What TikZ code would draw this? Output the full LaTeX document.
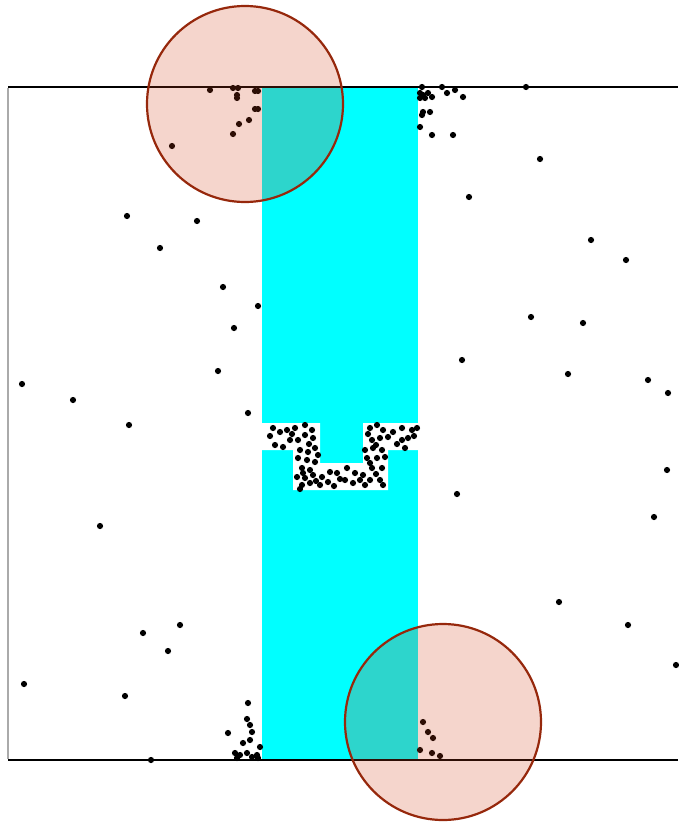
\documentclass[tikz,border=0pt]{standalone}
\usepackage{tikz}
\usetikzlibrary{positioning}
\definecolor{BandColor}{HTML}{00FFFF}
\definecolor{ZoneFill}{RGB}{208,65,23}
\definecolor{ZoneDraw}{RGB}{150,40,12}
\definecolor{FrameGray}{RGB}{170,170,170}

\begin{document}
\begin{tikzpicture}[
        x=1pt, y=-1pt,
        band/.style={fill=BandColor},
        hole/.style={fill=white},
        pt/.style={fill=black},
        frame/.style={line width=1.5pt, black},
        zone/.style={circle, draw=ZoneDraw, line width=2.2pt, fill=ZoneFill, fill opacity=0.22, minimum size=196pt, inner sep=0pt}
      ]
        \useasboundingbox (0,0) rectangle (678,822);

        % channel and its notch
        \fill[band] (262,87) rectangle (418,760);
        \fill[hole] (262,423) -- (320,423) -- (320,463) -- (363,463) -- (363,423) -- (418,423)
          -- (418,450) -- (388,450) -- (388,490) -- (293,490) -- (293,450) -- (262,450) -- cycle;

        % particles
        \foreach \px/\py in {
          210/90, 233/88, 238/88, 237/95, 237/98, 255/91, 258/91, 255/109, 258/109,
          249/120, 239/124, 233/134, 172/146,
          420/93, 423/95, 428/93, 432/97, 420/98, 425/98, 423/112, 430/112, 422/115,
          420/127, 432/135, 453/135, 447/93, 455/90, 463/97, 442/87, 422/87, 526/87,
          127/216, 197/221, 160/248, 223/287, 258/306, 234/328, 218/371, 22/384,
          73/400, 248/413, 129/425, 100/526, 143/633, 180/625, 168/651, 24/684,
          125/696, 151/760,
          540/159, 469/197, 591/240, 626/260, 531/317, 583/323, 462/360, 568/374,
          648/380, 668/393, 457/494, 667/470, 654/517, 559/602, 628/625, 676/665,
          273/428, 280/432, 287/430, 295/428, 305/425, 312/430, 275/445, 283/447,
          290/440, 298/440, 305/435, 313/438, 300/450, 308/452, 315/448, 298/458,
          307/460, 315/462, 302/468, 310/470, 297/477, 305/478, 313/475, 322/477,
          330/472, 337/473, 302/485, 310/483, 320/485, 328/482, 300/489,
          270/436, 292/434, 309/444, 318/455, 303/473, 340/479, 316/481, 334/486,
          370/428, 377/425, 383/430, 393/432, 402/428, 412/430, 417/428, 372/440,
          380/438, 402/440, 408/438, 405/448, 365/450, 373/448, 382/450, 367/458,
          377/458, 385/457, 372/468, 382/468, 347/468, 355/473, 363/475, 345/480,
          353/483, 370/480, 380/480, 365/485, 383/485,
          368/434, 388/437, 376/445, 370/463, 360/480, 376/474, 397/444, 414/436,
          248/703, 247/719, 250/725, 252/732, 228/733, 250/740, 243/743, 260/747,
          235/753, 240/755, 247/753, 252/757, 257/755, 237/758, 258/758,
          423/722, 428/732, 433/738, 420/750, 432/753, 440/756}
          \fill[pt] (\px,\py) circle (3.1pt);

        % domain borders
        \draw[frame] (8,87) -- (678,87);
        \draw[frame] (8,760) -- (678,760);
        \draw[line width=1.5pt, FrameGray] (8,88) -- (8,759);

        % inlet and outlet zones
        \node[zone] (inlet) at (245,104) {};
        \node[zone] (outlet) at (443,722) {};
      \end{tikzpicture}
\end{document}
